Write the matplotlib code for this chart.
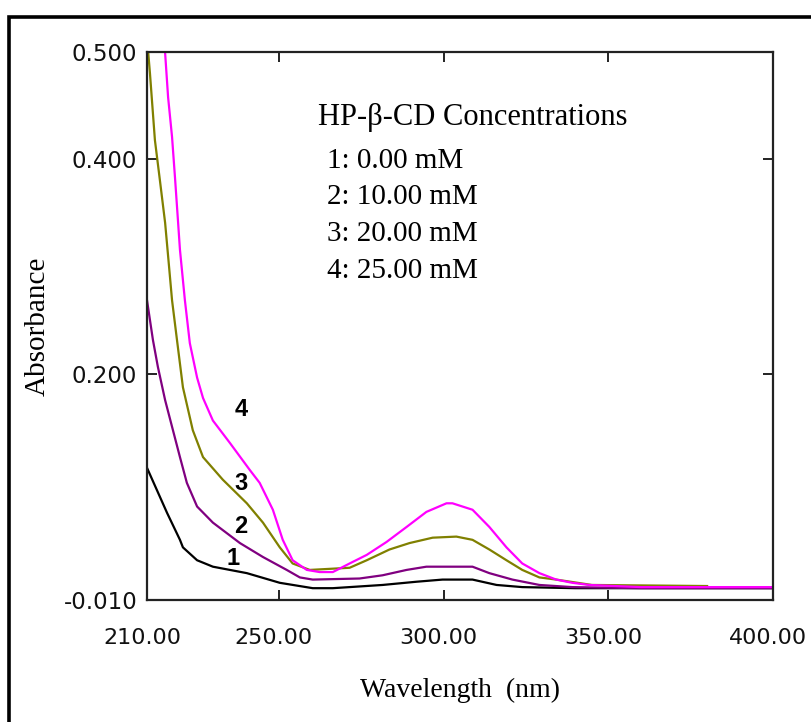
import matplotlib.pyplot as plt
from matplotlib.patches import Rectangle
from matplotlib.transforms import ScaledTranslation

# spectra (wavelength in nm, absorbance)
wl_1 = [210, 216.1, 220, 220.9, 225.2, 230, 240.3, 250.3, 260.3, 266.4, 281.5, 291.8, 299.7, 308.8, 316.1, 323.9, 340, 360, 400]
abs_1 = [0.113, 0.071, 0.046, 0.039, 0.027, 0.021, 0.015, 0.006, 0.001, 0.001, 0.004, 0.007, 0.009, 0.009, 0.004, 0.002, 0.001, 0.001, 0.001]

wl_2 = [210, 211.8, 213.3, 215.5, 220, 222.1, 225.2, 230, 238.2, 245.2, 252.4, 256.4, 260.3, 274.5, 281.5, 288.8, 294.8, 301.8, 308.8, 313.9, 320.9, 329.1, 339.1, 360, 400]
abs_2 = [0.269, 0.232, 0.207, 0.176, 0.123, 0.099, 0.077, 0.062, 0.043, 0.030, 0.018, 0.011, 0.009, 0.010, 0.013, 0.018, 0.021, 0.021, 0.021, 0.015, 0.009, 0.004, 0.002, 0.001, 0.001]

wl_3 = [210, 210.3, 210.9, 212.4, 213.9, 215.5, 216.7, 217.6, 219.1, 220.9, 222.1, 223.9, 227, 233, 240.3, 245.2, 250.3, 254.2, 259.4, 265.5, 271.5, 276.7, 283.6, 289.7, 296.7, 303.9, 308.8, 313.9, 319.1, 323.9, 329.1, 334.2, 345, 380]
abs_3 = [0.52, 0.502, 0.480, 0.418, 0.381, 0.341, 0.300, 0.269, 0.232, 0.188, 0.172, 0.148, 0.123, 0.102, 0.080, 0.062, 0.039, 0.024, 0.018, 0.019, 0.020, 0.027, 0.037, 0.043, 0.048, 0.049, 0.046, 0.037, 0.027, 0.018, 0.011, 0.009, 0.004, 0.003]

wl_4 = [212.5, 215.5, 216.4, 217.6, 218.5, 219.4, 220, 221.5, 223, 225.2, 227, 230, 235.2, 241.2, 244.2, 248.2, 251.2, 254.2, 258.5, 262.4, 266.4, 271.5, 276.7, 282.7, 288.8, 294.8, 300.9, 302.7, 308.8, 313.9, 319.1, 323.9, 329.1, 334.2, 339.1, 344.2, 360, 400]
abs_4 = [0.56, 0.499, 0.458, 0.421, 0.383, 0.343, 0.316, 0.269, 0.229, 0.197, 0.178, 0.157, 0.136, 0.111, 0.099, 0.074, 0.046, 0.027, 0.018, 0.016, 0.016, 0.024, 0.032, 0.044, 0.058, 0.072, 0.080, 0.080, 0.074, 0.058, 0.039, 0.024, 0.015, 0.009, 0.006, 0.004, 0.002, 0.002]

x_ticks = [210, 250, 300, 350, 400]
x_labels = ["210.00", "250.00", "300.00", "350.00", "400.00"]
y_ticks = [-0.010, 0.200, 0.400, 0.500]
y_labels = ["-0.010", "0.200", "0.400", "0.500"]

legend_title = "HP-β-CD Concentrations"
legend_items = ["1: 0.00 mM", "2: 10.00 mM", "3: 20.00 mM", "4: 25.00 mM"]
curve_tags = ["1", "2", "3", "4"]
tag_x = [236.1, 238.5, 238.5, 238.5]
tag_y = [0.029, 0.058, 0.098, 0.167]

fig = plt.figure(figsize=(8.11, 7.22), dpi=100)
fig.patches.append(Rectangle((9 / 811, -0.1), 1.2, 1.1 - 17 / 722, transform=fig.transFigure,
                             fill=False, edgecolor="black", linewidth=2.6))

ax = fig.add_axes([147 / 811, 1 - 600 / 722, 626 / 811, 548 / 722])

ax.plot(wl_1, abs_1, color="black", lw=1.6)
ax.plot(wl_2, abs_2, color="#800080", lw=1.6)
ax.plot(wl_3, abs_3, color="#808000", lw=1.6)
ax.plot(wl_4, abs_4, color="#ff00ff", lw=1.6)

ax.set_xlim(210, 400)
ax.set_ylim(-0.010, 0.5)

ax.set_xticks(x_ticks)
ax.set_xticklabels(x_labels, fontfamily="DejaVu Sans", fontsize=16)
ax.set_yticks(y_ticks)
ax.set_yticklabels(y_labels, fontfamily="DejaVu Sans", fontsize=16.5)
ax.tick_params(direction="in", length=7, width=1.4, top=True, right=True,
               colors="#222222", labelcolor="#111111")
ax.tick_params(axis="x", pad=20)
ax.tick_params(axis="y", pad=7)
for s in ax.spines.values():
    s.set_linewidth(1.6)
    s.set_color("#222222")

# the x labels sit a little left of their ticks in the original
shift = ScaledTranslation(-0.05, 0, fig.dpi_scale_trans)
for lab in ax.get_xticklabels():
    lab.set_transform(lab.get_transform() + shift)

ax.set_xlabel("Wavelength  (nm)", fontfamily="Liberation Serif", fontsize=20, labelpad=22)
ax.set_ylabel("Absorbance", fontfamily="Liberation Serif", fontsize=21, labelpad=9)

ax.text(261.8, 0.439, legend_title, fontfamily="Liberation Serif", fontsize=22, va="center")
for i, item in enumerate(legend_items):
    ax.text(264.5, 0.399 - i * 0.0342, item, fontfamily="Liberation Serif", fontsize=21, va="center")

for t, tx, ty in zip(curve_tags, tag_x, tag_y):
    ax.text(tx, ty, t, fontfamily="Liberation Sans", fontweight="bold", fontsize=17,
            ha="center", va="center")

fig.savefig("out.png", dpi=100)
